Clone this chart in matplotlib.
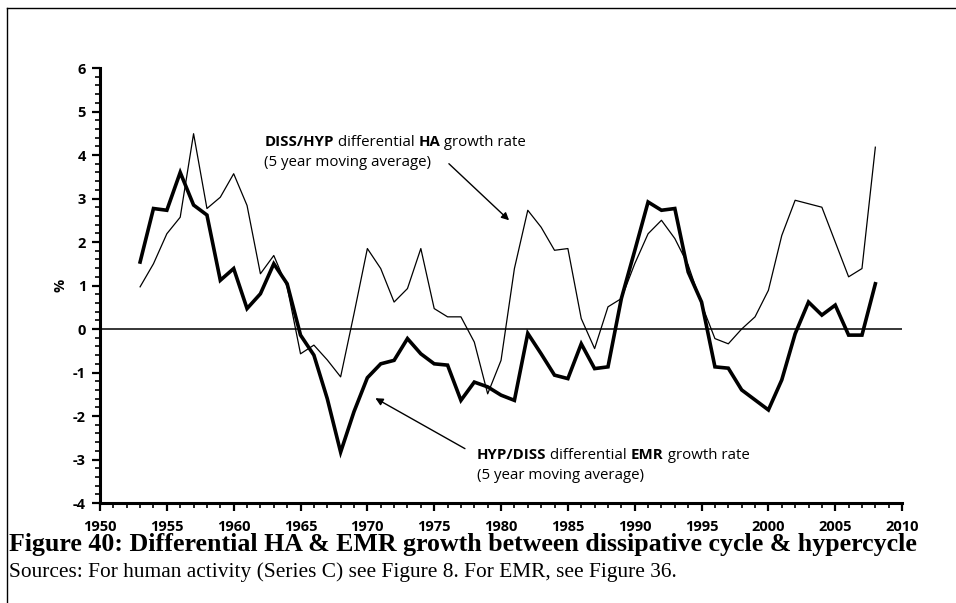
import numpy as np
import matplotlib.pyplot as plt
from matplotlib.ticker import MultipleLocator
from matplotlib.lines import Line2D

# 5 year moving averages, % difference in growth rates
years = np.arange(1953, 2009)
ha_diff = [0.97, 1.50, 2.19, 2.57, 4.49, 2.77, 3.03, 3.57, 2.84, 1.27,
           1.69, 0.97, -0.57, -0.37, -0.71, -1.10, 0.35, 1.85, 1.39, 0.62,
           0.93, 1.85, 0.47, 0.28, 0.28, -0.30, -1.49, -0.72, 1.39, 2.73,
           2.34, 1.81, 1.85, 0.24, -0.45, 0.51, 0.70, 1.50, 2.19, 2.50,
           2.08, 1.47, 0.57, -0.22, -0.34, 0.00, 0.28, 0.89, 2.15, 2.96,
           2.88, 2.80, 2.00, 1.20, 1.39, 4.18]
emr_diff = [1.54, 2.77, 2.73, 3.60, 2.85, 2.62, 1.12, 1.39, 0.47, 0.81,
            1.50, 1.04, -0.14, -0.60, -1.60, -2.83, -1.90, -1.12, -0.80, -0.72,
            -0.22, -0.57, -0.80, -0.83, -1.64, -1.22, -1.33, -1.52, -1.64, -0.10,
            -0.57, -1.06, -1.14, -0.34, -0.91, -0.87, 0.70, 1.80, 2.92, 2.73,
            2.77, 1.31, 0.62, -0.87, -0.90, -1.40, -1.63, -1.86, -1.17, -0.11,
            0.62, 0.32, 0.55, -0.14, -0.14, 1.04]

sans = ['Open Sans', 'DejaVu Sans']
label_size = 10.8
plt.rcParams['font.family'] = sans
plt.rcParams['font.weight'] = 'bold'
plt.rcParams['axes.unicode_minus'] = False

fig = plt.figure(figsize=(9.56, 6.03), dpi=100)
ax = fig.add_axes([0.1046, 0.1658, 0.839, 0.7214])

ax.plot(years, ha_diff, color='black', lw=0.9)
ax.plot(years, emr_diff, color='black', lw=2.6, solid_joinstyle='miter')
ax.axhline(0, color='black', lw=1.1)

ax.set_xlim(1950, 2010)
ax.set_ylim(-4, 6)
ax.xaxis.set_major_locator(MultipleLocator(5))
ax.xaxis.set_minor_locator(MultipleLocator(1))
ax.yaxis.set_major_locator(MultipleLocator(1))
ax.yaxis.set_minor_locator(MultipleLocator(0.2))
ax.tick_params(which='major', direction='out', length=6, width=1.6,
               labelsize=10.5)
ax.tick_params(axis='x', which='major', pad=6)
ax.tick_params(axis='y', which='major', pad=4)
ax.tick_params(which='minor', direction='out', length=3.5, width=1.2)

for s in ['top', 'right']:
    ax.spines[s].set_visible(False)
for s in ['left', 'bottom']:
    ax.spines[s].set_linewidth(2.2)

ax.set_ylabel('%', fontsize=10.5, fontweight='bold', labelpad=4)

arrow = dict(arrowstyle='-|>', color='black', lw=1.0, mutation_scale=11,
             shrinkA=0, shrinkB=0)
ax.annotate('', xy=(1980.6, 2.5), xytext=(1976.1, 3.8), arrowprops=arrow)
ax.annotate('', xy=(1970.6, -1.59), xytext=(1977.3, -2.75), arrowprops=arrow)

fig.canvas.draw()
renderer = fig.canvas.get_renderer()


def label_line(x, y, parts):
    # one line of text made of (string, weight) pieces set side by side
    cur = x
    for txt, wt in parts:
        t = ax.text(cur, y, txt, fontsize=label_size, fontweight=wt,
                    va='baseline')
        bb = t.get_window_extent(renderer)
        cur = ax.transData.inverted().transform((bb.x1, bb.y0))[0]


label_line(1962.3, 4.2, [('DISS/HYP', 'bold'), (' differential ', 'normal'),
                         ('HA', 'bold'), (' growth rate', 'normal')])
label_line(1962.3, 3.74, [('(5 year moving average)', 'normal')])
label_line(1978.2, -2.99, [('HYP/DISS', 'bold'), (' differential ', 'normal'),
                           ('EMR', 'bold'), (' growth rate', 'normal')])
label_line(1978.2, -3.45, [('(5 year moving average)', 'normal')])

# caption under the chart
fig.text(0.009, 0.086, 'Figure 40: Differential HA & EMR growth between '
         'dissipative cycle & hypercycle', family='Liberation Serif',
         fontsize=18.6, fontweight='bold', va='baseline')
fig.text(0.009, 0.043, 'Sources: For human activity (Series C) see Figure 8. '
         'For EMR, see Figure 36.', family='Liberation Serif', fontsize=15.4,
         fontweight='normal', va='baseline')

# page frame
fig.add_artist(Line2D([0.0073, 0.0073], [0.0, 0.987], color='black', lw=1.0))
fig.add_artist(Line2D([0.0073, 1.0], [0.987, 0.987], color='black', lw=1.0))

fig.savefig('out.png', dpi=100)
